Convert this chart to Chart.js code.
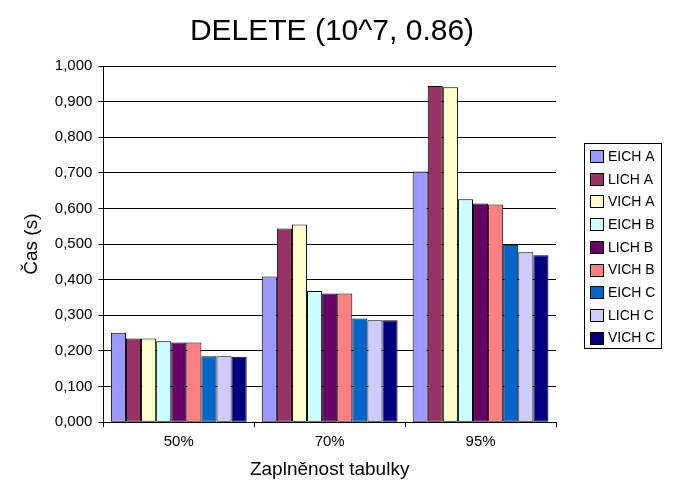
<!DOCTYPE html>
<html>
<head>
<meta charset="utf-8">
<script src="https://cdn.jsdelivr.net/npm/chart.js@4/dist/chart.umd.min.js"></script>
<style>
  html, body { margin: 0; padding: 0; background: #fff; }
  #wrap { width: 678px; height: 492px; }
</style>
</head>
<body>
<div id="wrap"><canvas id="chart"></canvas></div>
<script>
"use strict";

// Data
var categories = ['50%', '70%', '95%'];
var seriesNames = ['EICH A', 'LICH A', 'VICH A', 'EICH B', 'LICH B', 'VICH B', 'EICH C', 'LICH C', 'VICH C'];
var eichA = [0.251, 0.409, 0.704];
var lichA = [0.235, 0.544, 0.944];
var vichA = [0.235, 0.555, 0.940];
var eichB = [0.227, 0.368, 0.626];
var lichB = [0.224, 0.361, 0.614];
var vichB = [0.224, 0.361, 0.611];
var eichC = [0.185, 0.291, 0.498];
var lichC = [0.185, 0.286, 0.477];
var vichC = [0.184, 0.286, 0.469];
var seriesValues = [eichA, lichA, vichA, eichB, lichB, vichB, eichC, lichC, vichC];

// Excel-ish palette
var seriesColors = ['#9999FF', '#993366', '#FFFFCC', '#CCFFFF', '#660066', '#FF8080', '#0066CC', '#CCCCFF', '#000080'];

var fontFamily = 'Arial, "Liberation Sans", sans-serif';

var datasets = seriesNames.map(function (name, i) {
    return {
        label: name,
        data: seriesValues[i],
        backgroundColor: seriesColors[i],
        borderColor: '#000000',
        borderWidth: 1,
        borderSkipped: false,
        categoryPercentage: 0.9,
        barPercentage: 1.0
    };
});

// Boxed legend on the right, drawn from the datasets
var boxLegend = {
    id: 'boxLegend',
    afterDraw: function (chart) {
        var ctx = chart.ctx;
        var left = 584, top = 143, width = 77, height = 205;
        ctx.save();
        ctx.strokeStyle = '#000';
        ctx.lineWidth = 1;
        ctx.strokeRect(left + 0.5, top + 0.5, width, height);
        ctx.font = '14px ' + fontFamily;
        ctx.textBaseline = 'middle';
        chart.data.datasets.forEach(function (ds, i) {
            var cy = 156 + i * 22.7;
            var y0 = Math.round(cy - 6);
            ctx.fillStyle = ds.backgroundColor;
            ctx.fillRect(590, y0, 13, 12);
            ctx.strokeStyle = '#000';
            ctx.strokeRect(590.5, y0 + 0.5, 13, 12);
            ctx.fillStyle = '#000';
            ctx.fillText(ds.label, 608, cy + 1);
        });
        ctx.restore();
    }
};

var chart = new Chart(document.getElementById('chart').getContext('2d'), {
    type: 'bar',
    data: {
        labels: categories,
        datasets: datasets
    },
    options: {
        responsive: true,
        maintainAspectRatio: false,
        animation: false,
        layout: {
            padding: { left: 20, right: 34, top: 0, bottom: 11 }
        },
        plugins: {
            legend: { display: false },
            tooltip: { enabled: false },
            title: {
                display: true,
                text: 'DELETE (10^7, 0.86)',
                color: '#000',
                font: { family: fontFamily, size: 30, weight: 'normal' },
                padding: { top: 14, bottom: 16 }
            }
        },
        scales: {
            x: {
                grid: {
                    offset: true,
                    drawOnChartArea: false,
                    drawTicks: true,
                    tickLength: 5,
                    color: '#000'
                },
                border: { color: '#000', width: 1 },
                ticks: {
                    color: '#000',
                    font: { family: fontFamily, size: 15 },
                    padding: 6
                },
                title: {
                    display: true,
                    text: 'Zaplněnost tabulky',
                    color: '#000',
                    font: { family: fontFamily, size: 19 },
                    padding: { top: 1, bottom: 0 }
                }
            },
            y: {
                min: 0,
                max: 1,
                grid: {
                    color: '#000',
                    drawTicks: true,
                    tickLength: 5
                },
                border: { color: '#000', width: 1 },
                ticks: {
                    stepSize: 0.1,
                    color: '#000',
                    font: { family: fontFamily, size: 15 },
                    padding: 6,
                    callback: function (v) { return v.toFixed(3).replace('.', ','); }
                },
                title: {
                    display: true,
                    text: 'Čas (s)',
                    color: '#000',
                    font: { family: fontFamily, size: 19 },
                    padding: { top: 0, bottom: 6 }
                }
            },
            // empty axis that reserves room for the legend box
            legendSpace: {
                position: 'right',
                min: 0,
                max: 1,
                grid: { display: false },
                border: { display: false },
                ticks: { display: false },
                afterFit: function (scale) { scale.width = 88; }
            }
        }
    },
    plugins: [boxLegend]
});
</script>
</body>
</html>
